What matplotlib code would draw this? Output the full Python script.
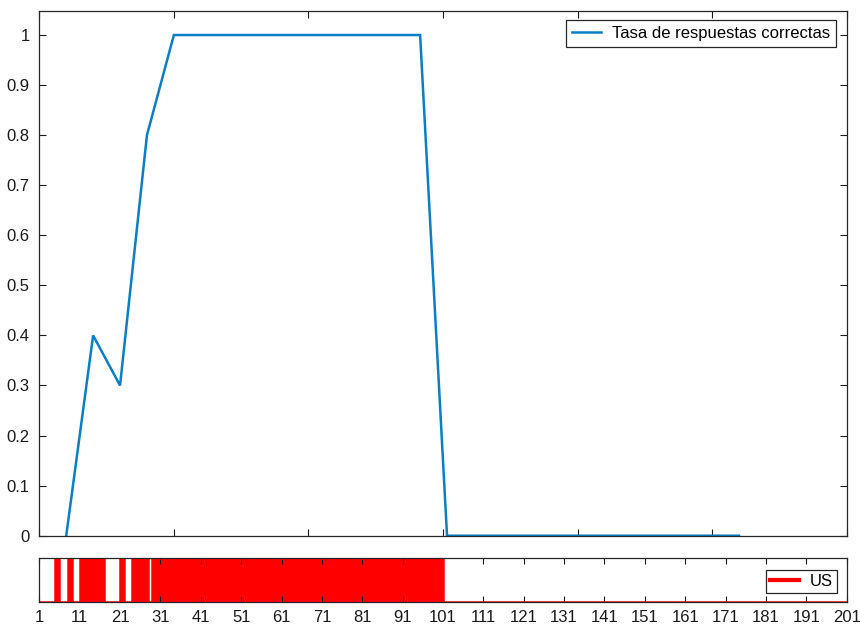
import matplotlib
matplotlib.use("Agg")
import matplotlib.pyplot as plt
import numpy as np

plt.rcParams['font.family'] = ['Liberation Sans', 'DejaVu Sans']

# Top panel: rate of correct responses
rate_x = [1, 2, 3, 4, 5, 14.15, 15.15, 26]
rate_y = [0, 0.4, 0.3, 0.8, 1.0, 1.0, 0.0, 0.0]
rate_label = "Tasa de respuestas correctas"

# Bottom panel: US presence per trial (1 = present)
trials = np.arange(1, 202)
us_trials = [5, 8, 11, 12, 13, 14, 15, 16, 21, 24, 25, 26, 27] + list(range(29, 101))
us = np.array([1 if t in us_trials else 0 for t in trials])
us_label = "US"

bottom_ticks = list(range(1, 202, 10))
top_yticks = [0, 0.1, 0.2, 0.3, 0.4, 0.5, 0.6, 0.7, 0.8, 0.9, 1]
top_ytick_labels = ["0", "0.1", "0.2", "0.3", "0.4", "0.5", "0.6", "0.7", "0.8", "0.9", "1"]
top_xticks = [0, 5, 10, 15, 20, 25, 30]

FS = 12
fig = plt.figure(figsize=(8.6, 6.27), dpi=100)
ax1 = fig.add_axes([0.0457, 0.1456, 0.9388, 0.8369])
ax2 = fig.add_axes([0.0457, 0.0403, 0.9388, 0.0697])

blue = '#0a7ec6'
ax1.plot(rate_x, rate_y, color=blue, lw=1.8, label=rate_label, solid_joinstyle='miter')
ax1.set_xlim(0, 30)
ax1.set_ylim(0, 1.048)
ax1.set_xticks(top_xticks)
ax1.set_xticklabels([])
ax1.set_yticks(top_yticks)
ax1.set_yticklabels(top_ytick_labels)
ax1.tick_params(direction='in', top=True, right=True, length=5, width=0.8,
                labelsize=FS, colors='#1a1a1a', pad=7)
for s in ax1.spines.values():
    s.set_color('#262626'); s.set_linewidth(0.9)
leg1 = ax1.legend(loc='upper right', bbox_to_anchor=(0.9865, 0.983), fontsize=FS,
                  fancybox=False, shadow=False, framealpha=1, edgecolor='#262626',
                  handlelength=1.75, borderpad=0.35, handletextpad=0.65, borderaxespad=0)
leg1.get_frame().set_linewidth(0.9)

red = '#ff0000'
ax2.fill_between(trials, 0, us, step='post', color=red, lw=0)
ax2.step(trials, us, where='post', color=red, lw=1.8, label=us_label)
ax2.set_xlim(1, 201)
ax2.set_ylim(0, 1)
ax2.set_yticks([])
ax2.set_xticks(bottom_ticks)
ax2.set_xticklabels([str(t) for t in bottom_ticks])
ax2.tick_params(direction='in', top=True, length=4, width=0.8,
                labelsize=FS, colors='#1a1a1a', pad=6)
for s in ax2.spines.values():
    s.set_color('#262626'); s.set_linewidth(0.9)
leg2 = ax2.legend(loc='lower right', bbox_to_anchor=(0.9885, 0.2), fontsize=FS,
                  fancybox=False, shadow=False, framealpha=1, edgecolor='#262626',
                  handlelength=1.75, borderpad=0.25, handletextpad=0.65, borderaxespad=0)
leg2.get_frame().set_linewidth(0.9)
for line in leg2.get_lines():
    line.set_linewidth(3)

fig.savefig('out.png', dpi=100, facecolor='white')
